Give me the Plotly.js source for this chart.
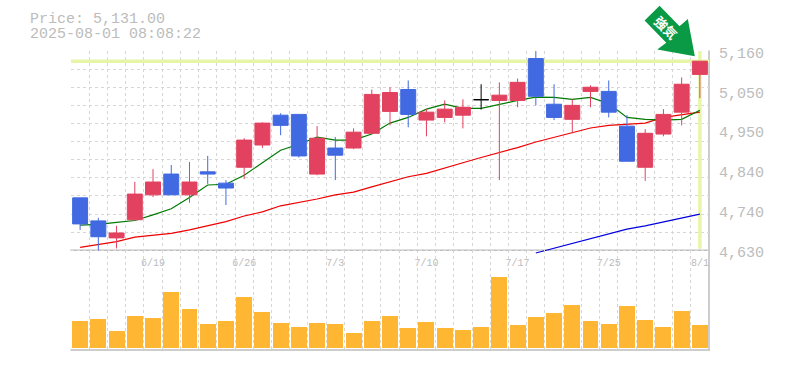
<!DOCTYPE html>
<html><head><meta charset="utf-8">
<script src="https://cdn.plot.ly/plotly-3.0.1.min.js"></script>
<style>html,body{margin:0;padding:0;background:#fff}#c{width:785px;height:370px}</style>
</head><body><div id="c"></div>
<script>
const opens =[4769,4708,4663,4711,4777,4832,4777,4838,4808,4850,4909,4988,4990,4832,4901,4901,4940,4998,5056,4975,4982,4988,5029,5027,5027,5138,5017,4977,5051,5051,4959,4850,4938,4996,5096];
const closes=[4700,4666,4676,4779,4811,4777,4811,4832,4795,4922,4967,4961,4880,4927,4882,4943,5043,5048,4990,4996,5004,5009,5029,5041,5075,5038,4982,5014,5062,4996,4866,4940,4990,5070,5131];
const highs =[4769,4716,4695,4811,4845,4856,4864,4880,4816,4927,4969,4993,4990,4959,4930,4953,5056,5062,5080,5004,5027,5030,5070,5075,5085,5159,5070,5030,5067,5080,4988,4951,5004,5088,5131];
const lows  =[4684,4630,4635,4711,4771,4777,4756,4806,4750,4819,4901,4935,4876,4829,4816,4898,4940,4961,4956,4932,4969,4953,5003,4816,5009,5014,4975,4940,5009,4982,4866,4814,4932,4961,5033];
const maShort=[4697,4699,4704,4709,4724,4740,4770,4803,4805,4829,4862,4895,4911,4930,4922,4922,4938,4967,4982,5004,5017,5006,5006,5017,5027,5036,5035,5030,5035,5019,4982,4977,4975,4977,5001];
const maMid  =[4638,4645,4653,4665,4670,4675,4684,4695,4706,4721,4732,4748,4756,4766,4777,4784,4798,4812,4825,4834,4847,4862,4876,4888,4902,4917,4930,4943,4954,4961,4964,4967,4982,4990,4996];
const maLong =[null,null,null,null,null,null,null,null,null,null,null,null,null,null,null,null,null,null,null,null,null,null,null,null,null,4623,4636,4649,4660,4675,4686,4695,4705,4715,4726];
const volumes=[27,29,17,32,30,56,39,24,27,51,36,25,21,25,24,15,27,32,20,26,20,18,21,71,23,31,35,43,27,24,42,28,21,37,23];
const dateIdx=[4,9,14,19,24,29,34];
const dateLabels=['6/19','6/26','7/3','7/10','7/17','7/25','8/1'];
const priceTicks=[5154,5048.4,4942.8,4837.2,4731.6,4626];
const priceLabels=['5,160','5,050','4,950','4,840','4,740','4,630'];
const lastPrice=5131;
const idx=opens.map((_,i)=>i);

const UP='#e2425f',DOWN='#4169e1',GRID='#d6d6d6',AXIS='#bdbdbd',TXT='#bcbcbc',HL='#e6f5a8';
const L=70.5,R=75.5,T=50.5,B=19.5,W=785,H=370;
const fx=x=>(x-L)/(W-L-R), fy=y=>1-(y-T)/(H-T-B);
const pick=(a,f)=>a.filter((_,i)=>f(i));
const notDoji=i=>opens[i]!==closes[i], doji=i=>opens[i]===closes[i];
function candle(f,up,down){return {type:'candlestick',xaxis:'x2',yaxis:'y2',hoverinfo:'skip',whiskerwidth:0,
  x:pick(idx,f),open:pick(opens,f),high:pick(highs,f),low:pick(lows,f),close:pick(closes,f),
  increasing:{line:{color:up,width:1},fillcolor:up},decreasing:{line:{color:down,width:1},fillcolor:down}};}
function ma(y,c){return {type:'scatter',mode:'lines',x:idx,y:y,xaxis:'x',yaxis:'y',cliponaxis:false,hoverinfo:'skip',line:{color:c,width:1.2}};}
const traces=[
 {type:'scatter',mode:'lines',x:[-0.5,34.5],y:[lastPrice,lastPrice],xaxis:'x',yaxis:'y',line:{color:HL,width:3.5},hoverinfo:'skip'},
 {type:'scatter',mode:'lines',x:[34,34],y:[5158,4634],xaxis:'x',yaxis:'y',line:{color:HL,width:3.5},hoverinfo:'skip'},
 ma(maLong,'#0000e0'),ma(maMid,'#f00000'),ma(maShort,'#007a00'),
 {type:'bar',x:idx,y:volumes,xaxis:'x',yaxis:'y3',width:0.875,marker:{color:'#ffb733',line:{width:0}},hoverinfo:'skip'},
 candle(notDoji,UP,DOWN),
 candle(doji,'#000000','#000000')
];
const arrow=[[660,5],[645,20],[666.7,42.3],[657.7,49],[695.3,55.7],[688.3,18.3],[680,25.7]];
const arrowPath=arrow.map((p,i)=>(i?'L':'M')+fx(p[0])+','+fy(p[1])).join(' ')+' Z';
const line=(x0,y0,x1,y1)=>({type:'line',xref:'paper',yref:'paper',x0:fx(x0),y0:fy(y0),x1:fx(x1),y1:fy(y1),line:{color:AXIS,width:1.5},layer:'below'});
const layout={
 width:W,height:H,autosize:false,showlegend:false,paper_bgcolor:'rgba(255,255,255,1)',plot_bgcolor:'rgba(0,0,0,0)',
 margin:{l:L,r:R,t:T,b:B,pad:0},boxgap:0.18,boxgroupgap:0,bargap:0,
 xaxis:{domain:[0,1],range:[-0.5,34.5],anchor:'y',tick0:-0.5,dtick:1,showticklabels:false,ticks:'',showgrid:true,gridcolor:GRID,griddash:'3px,3px',gridwidth:1,zeroline:false,rangeslider:{visible:false},fixedrange:true},
 xaxis2:{overlaying:'x',anchor:'y2',range:[-0.5,34.5],tickmode:'array',tickvals:dateIdx,ticktext:dateLabels,ticks:'',showgrid:false,zeroline:false,rangeslider:{visible:false},ticklabelstandoff:0,tickfont:{family:'Liberation Mono',size:10,color:TXT},fixedrange:true},
 yaxis:{domain:[95/300,1],range:[4616.8,5158],anchor:'x',tick0:4630,dtick:48,showticklabels:false,ticks:'',showgrid:true,gridcolor:GRID,griddash:'3px,3px',gridwidth:1,zeroline:false,fixedrange:true},
 yaxis2:{domain:[95/300,1],overlaying:'y',side:'right',anchor:'x2',range:[4616.8,5158],tickmode:'array',tickvals:priceTicks,ticktext:priceLabels,ticks:'',showgrid:false,zeroline:false,ticklabelstandoff:9,tickfont:{family:'Liberation Mono',size:15,color:TXT},fixedrange:true},
 yaxis3:{domain:[0,1/3],anchor:'x',range:[-2.5,97.5],showgrid:false,showticklabels:false,ticks:'',zeroline:false,fixedrange:true},
 shapes:[line(70,250.5,710,250.5),line(70,350.5,710,350.5),line(709.5,50,709.5,351),
  {type:'path',xref:'paper',yref:'paper',path:arrowPath,fillcolor:'#0a9a45',line:{width:0},layer:'above'}],
 annotations:[
  {xref:'paper',yref:'paper',x:fx(27),y:fy(18.5),xanchor:'left',yanchor:'middle',showarrow:false,text:'Price: 5,131.00',font:{family:'Liberation Mono',size:15,color:TXT}},
  {xref:'paper',yref:'paper',x:fx(27),y:fy(33.5),xanchor:'left',yanchor:'middle',showarrow:false,text:'2025-08-01 08:08:22',font:{family:'Liberation Mono',size:15,color:TXT}},
  {xref:'paper',yref:'paper',x:fx(666.5),y:fy(27),xanchor:'center',yanchor:'middle',showarrow:false,textangle:45,text:'<b>強気</b>',font:{family:'Noto Sans CJK JP',size:13,color:'#ffffff'}}
 ]
};
Plotly.newPlot('c',traces,layout,{displayModeBar:false,staticPlot:true});
</script></body></html>
